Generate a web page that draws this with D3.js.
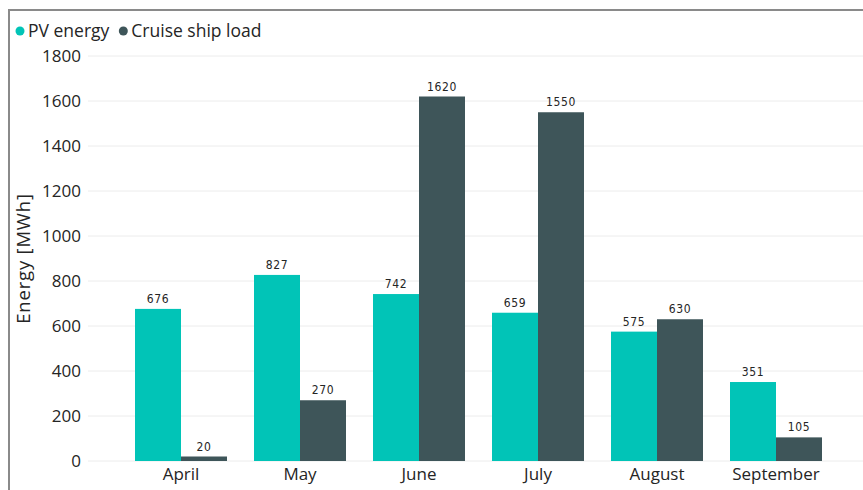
<!DOCTYPE html>
<html>
<head>
<meta charset="utf-8">
<script src="https://cdn.jsdelivr.net/npm/d3@7"></script>
<style>
  html, body { margin: 0; padding: 0; background: #fff; }
  svg { display: block; }
</style>
</head>
<body>
<svg id="chart" width="863" height="490"></svg>
<script>
// Monthly energy balance: PV generation vs. cruise ship demand
const months = ["April", "May", "June", "July", "August", "September"];
const pvEnergy = [676, 827, 742, 659, 575, 351];
const shipLoad = [20, 270, 1620, 1550, 630, 105];
const seriesNames = ["PV energy", "Cruise ship load"];
const seriesColors = ["#01C4B7", "#3E5559"];
const yTicks = [0, 200, 400, 600, 800, 1000, 1200, 1400, 1600, 1800];

const svg = d3.select("#chart");
const W = 863, H = 490;
const baseFont = "'Open Sans', 'Noto Sans', sans-serif";

// frame lines along the top and left edges
svg.append("line").attr("x1", 9).attr("x2", W).attr("y1", 10).attr("y2", 10)
  .attr("stroke", "#8a8a8a").attr("stroke-width", 2);
svg.append("line").attr("x1", 9).attr("x2", 9).attr("y1", 9).attr("y2", H)
  .attr("stroke", "#8a8a8a").attr("stroke-width", 2);

const y = d3.scaleLinear().domain([0, 1800]).range([461, 56]);
const x = d3.scaleBand().domain(months).range([121.5, 835.5])
  .paddingInner(0.227).paddingOuter(0.1135);
const xs = d3.scaleBand().domain([0, 1]).range([0, x.bandwidth()]);

// gridlines
svg.append("g").selectAll("line").data(yTicks).join("line")
  .attr("x1", 88).attr("x2", W)
  .attr("y1", d => y(d)).attr("y2", d => y(d))
  .attr("stroke", "#ececec").attr("stroke-width", 1);

// y axis labels
const yAxis = d3.axisLeft(y).tickValues(yTicks).tickFormat(d3.format("d"))
  .tickSize(0).tickPadding(0);
const gy = svg.append("g").attr("transform", "translate(81,0)").call(yAxis);
gy.select(".domain").remove();
gy.selectAll("text").attr("font-family", baseFont).attr("font-size", 17)
  .attr("fill", "#252525");

// x axis labels
const xAxis = d3.axisBottom(x).tickSize(0).tickPadding(0);
const gx = svg.append("g").attr("transform", "translate(0,468)").call(xAxis);
gx.select(".domain").remove();
gx.selectAll("text").attr("font-family", baseFont).attr("font-size", 17)
  .attr("fill", "#252525").attr("dy", "0.71em");

// axis title
svg.append("text")
  .attr("transform", `translate(30,${y(900)}) rotate(-90)`)
  .attr("text-anchor", "middle")
  .attr("font-family", baseFont).attr("font-size", 18.5)
  .attr("letter-spacing", 0.8).attr("fill", "#252525")
  .text("Energy [MWh]");

// bars
const series = [pvEnergy, shipLoad];
series.forEach((vals, si) => {
  const g = svg.append("g");
  g.selectAll("rect").data(months).join("rect")
    .attr("x", m => x(m) + xs(si))
    .attr("width", xs.bandwidth())
    .attr("y", (m, i) => y(vals[i]))
    .attr("height", (m, i) => y(0) - y(vals[i]))
    .attr("fill", seriesColors[si]);
  g.selectAll("text").data(months).join("text")
    .attr("x", m => x(m) + xs(si) + xs.bandwidth() / 2)
    .attr("y", (m, i) => y(vals[i]) - 6)
    .attr("text-anchor", "middle")
    .attr("font-family", "'DejaVu Sans Condensed', 'Roboto Condensed', Roboto, sans-serif")
    .attr("font-size", 12).attr("letter-spacing", 0.6)
    .attr("fill", "#252525")
    .text((m, i) => vals[i]);
});

// legend
const legend = svg.append("g").attr("transform", "translate(20,31)");
let lx = 0;
seriesNames.forEach((name, i) => {
  legend.append("circle").attr("cx", lx).attr("cy", 0).attr("r", 4.5)
    .attr("fill", seriesColors[i]);
  const t = legend.append("text").attr("x", lx + 8).attr("y", 0).attr("dy", "0.35em")
    .attr("font-family", baseFont).attr("font-size", 17.5).attr("fill", "#252525")
    .text(name);
  lx += 8 + t.node().getComputedTextLength() + 14;
});
</script>
</body>
</html>
